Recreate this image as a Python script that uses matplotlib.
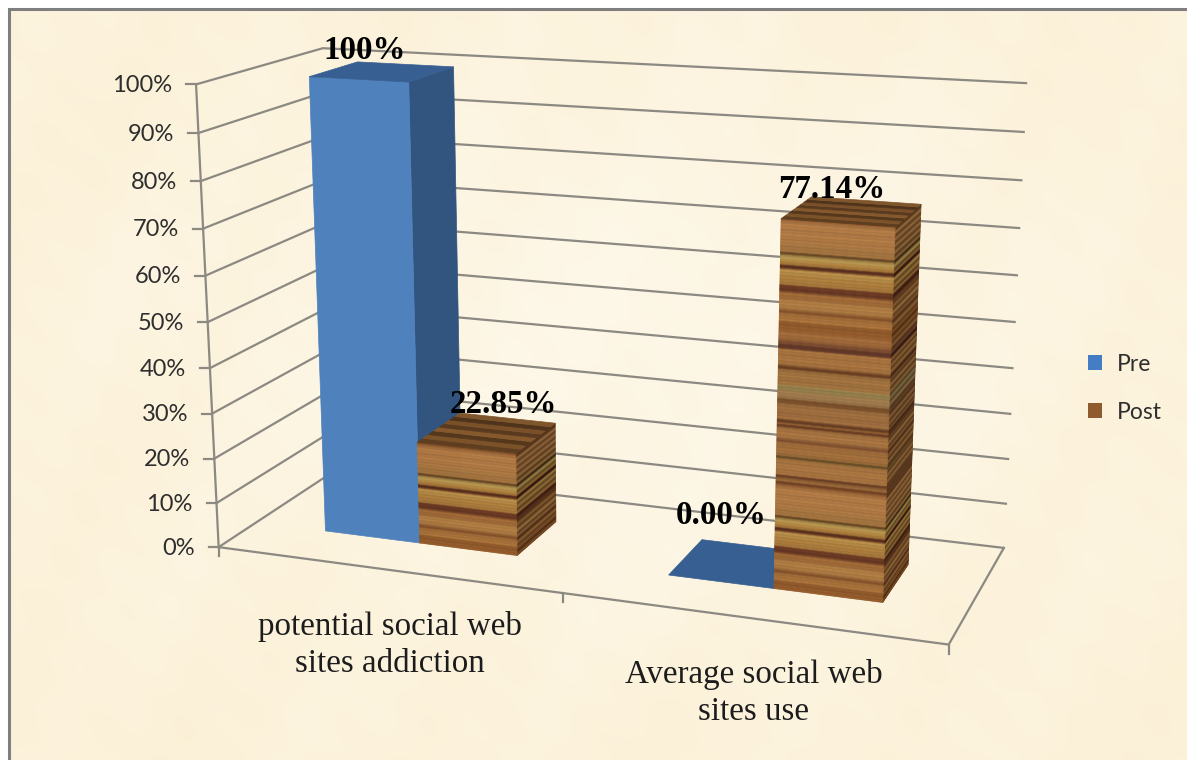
import numpy as np
import matplotlib
matplotlib.use('Agg')
import matplotlib.pyplot as plt
from matplotlib.patches import Polygon, Patch

#%% Data
categories = ["potential social web\nsites addiction", "Average social web\nsites use"]
series_names = ["Pre", "Post"]
pre_values = [100.0, 0.0]
post_values = [22.85, 77.14]
pre_labels = ["100%", "0.00%"]
post_labels = ["22.85%", "77.14%"]
value_ticks = [0, 10, 20, 30, 40, 50, 60, 70, 80, 90, 100]

#%% 3D view: fit a camera on the chart box corners (category, value, depth -> pixel)
ctrl = [(0, 0, 0, 219, 546), (0, 100, 0, 196, 85), (0, 0, 1, 339, 470), (0, 100, 1, 319, 48),
        (2, 0, 1, 1003, 547), (2, 100, 1, 1028, 85), (2, 0, 0, 947, 645), (1, 0, 0, 562, 600),
        (0, 50, 0, 207, 319), (2, 50, 1, 1015, 319),
        (0.214, 100, .3, 311, 77), (0.5, 100, .3, 410, 82), (0.5, 0, .3, 419, 543),
        (0.214, 0, .3, 325, 531), (0.786, 0, .3, 518, 554), (1.5, 0, .3, 775, 587),
        (1.786, 0, .3, 883, 602), (1.786, 0, .7, 908, 567), (0.5, 100, .7, 454, 69),
        (1.5, 77.14, .3, 781, 218), (1.786, 77.14, .3, 895, 225), (1.786, 77.14, .7, 920, 205),
        (0.5, 22.85, .3, 418, 442), (0.786, 22.85, .3, 516, 452), (0.786, 22.85, .7, 555, 423)]
A = []
b = []
for u, v, d, x, y in ctrl:
    A.append([u, v, d, 1, 0, 0, 0, 0, -x*u, -x*v, -x*d])
    b.append(x)
    A.append([0, 0, 0, 0, u, v, d, 1, -y*u, -y*v, -y*d])
    b.append(y)
cam = np.linalg.lstsq(np.array(A, float), np.array(b, float), rcond=None)[0]
cam = np.append(cam, 1).reshape(3, 4)

def proj(u, v, d):
    r = cam @ np.array([u, v, d, 1.0])
    return r[0]/r[2], r[1]/r[2]

#%% Style
grid_col = '#8c8982'
blue_front = '#4f81bd'
blue_side = '#31557f'
blue_top = '#375f92'
# wood grain, from the bottom of the bar upwards (height in px, colour)
wood = [(10, '#935a2a'), (8, '#aa723a'), (4, '#85522a'), (11, '#b07c42'), (7, '#9f6835'), (7, '#6a3822'),
        (10, '#ad7d3c'), (6, '#bb8f48'), (4, '#5a2d1c'), (5, '#ae7f3c'), (5, '#b99750'), (3, '#654622'),
        (10, '#a87640'), (20, '#b27a44'), (3, '#a06838'), (3, '#6c3d1f'), (4, '#9d6a3a'), (3, '#683c22'),
        (17, '#aa7540'), (3, '#664b25'), (14, '#a26e3a'), (4, '#82502e'), (12, '#a87440'), (3, '#653a20'),
        (2, '#986434'), (3, '#653a20'), (17, '#9f6d3d'), (5, '#774d28'), (8, '#a07a4c'), (6, '#98814c'),
        (16, '#a2723e'), (4, '#693d20'), (17, '#a8733d'), (5, '#653828'), (4, '#7d4c2e'), (9, '#a16938')]
tile_units = 54.6
wood_top = ['#5f3d1f', '#7c5229', '#55371c', '#86592d', '#5a3a1e', '#7a5028', '#4f331a', '#7f552b']

# one colour per px row, smoothed a little like the grain of the picture
tile = []
for h, col in wood:
    tile += [matplotlib.colors.to_rgb(col)]*h
tile = np.array(tile)*.97
n_rows = len(tile)
kernel = np.array([.25, .5, .25])
for ch in range(3):
    tile[:, ch] = np.convolve(np.r_[tile[-1, ch], tile[:, ch], tile[0, ch]], kernel, mode='valid')
rows = np.arange(n_rows)
tile = np.clip(tile*(1 + .045*np.sin(rows*1.9)[:, None] + .03*np.sin(rows*.73)[:, None]), 0, 1)

fig = plt.figure(figsize=(11.87, 7.6), dpi=100, facecolor='white')
ax = fig.add_axes([0, 0, 1, 1])

#%% Paper background
yy, xx = np.mgrid[0:760, 0:1187]
t = .38 + .55*np.exp(-((xx-620)/480.0)**2 - ((yy-340)/300.0)**2)
t = t + .07*np.sin(xx/37.0 + yy/61.0) + .06*np.sin(xx/13.0 - yy/29.0)*np.sin(yy/17.0) + .05*np.sin(xx/83.0)*np.cos(yy/47.0)
t = np.clip(t, 0, 1)
img = np.zeros((760, 1187, 3))
img[..., 0] = .985 + .008*t
img[..., 1] = .935 + .035*t
img[..., 2] = .820 + .090*t
ax.imshow(img, extent=(0, 1187, 760, 0), aspect='auto', zorder=0)
ax.set_xlim(0, 1187)
ax.set_ylim(760, 0)
ax.axis('off')
ax.add_patch(plt.Rectangle((0, 0), 1187, 8, fc='white', ec='none', zorder=1))
ax.add_patch(plt.Rectangle((0, 0), 8, 760, fc='white', ec='none', zorder=1))
ax.plot([8.5, 8.5, 1187], [760, 8.5, 8.5], color='#7f7f7f', lw=2.2, zorder=2, solid_joinstyle='miter')

#%% Walls, gridlines and ticks
for val in value_ticks:
    a = proj(0, val, 0)
    c = proj(0, val, 1)
    e = proj(2, val, 1)
    ax.plot([a[0], c[0], e[0]], [a[1], c[1], e[1]], color=grid_col, lw=1.6, zorder=3)
    ax.plot([a[0]-10, a[0]], [a[1], a[1]], color=grid_col, lw=1.6, zorder=3)
    ax.text(a[0]-24, a[1]+1, "%d%%" % val, ha='right', va='center', family='Lato',
            fontsize=17, color='#2e2e2e', zorder=6)
c0 = proj(0, 0, 0)
c1 = proj(0, 100, 0)
ax.plot([c0[0], c1[0]], [c0[1], c1[1]], color=grid_col, lw=1.6, zorder=3)
c2 = proj(2, 0, 0)
c3 = proj(2, 0, 1)
ax.plot([c0[0], c2[0], c3[0]], [c0[1], c2[1], c3[1]], color=grid_col, lw=1.6, zorder=3)
for i in range(len(categories)+1):
    tk = proj(i, 0, 0)
    ax.plot([tk[0], tk[0]], [tk[1], tk[1]+9], color=grid_col, lw=1.6, zorder=3)

#%% Bars
def face(pts, col, z):
    ax.add_patch(Polygon(pts, closed=True, fc=col, ec=col, lw=.5, zorder=z))

def solid_bar(u0, u1, d0, d1, val, z):
    if val > 0:
        face([proj(u1, 0, d0), proj(u1, 0, d1), proj(u1, val, d1), proj(u1, val, d0)], blue_side, z)
        face([proj(u0, 0, d0), proj(u1, 0, d0), proj(u1, val, d0), proj(u0, val, d0)], blue_front, z)
    face([proj(u0, val, d0), proj(u1, val, d0), proj(u1, val, d1), proj(u0, val, d1)], blue_top, z)

def wood_bar(u0, u1, d0, d1, val, z):
    step = tile_units/n_rows
    n = int(np.ceil(val/step))
    for i in range(n):
        lo = i*step
        top = min(lo+step, val)
        col = tile[i % n_rows]
        # side streaks are darker and stronger than the front
        side = np.clip(col*(.68 + .16*np.sin(i*.95)), 0, 1)
        face([proj(u1, lo, d0), proj(u1, lo, d1), proj(u1, top, d1), proj(u1, top, d0)], side, z)
        face([proj(u0, lo, d0), proj(u1, lo, d0), proj(u1, top, d0), proj(u0, top, d0)], col, z)
    n = len(wood_top)
    for i, col in enumerate(wood_top):
        a = d0 + (d1-d0)*i/n
        e = d0 + (d1-d0)*(i+1)/n
        face([proj(u0, val, a), proj(u1, val, a), proj(u1, val, e), proj(u0, val, e)], col, z)

d0, d1 = .3, .7
bar_w = .286
gap = .214
z = 4
for i in range(len(categories)):
    solid_bar(i+gap, i+gap+bar_w, d0, d1, pre_values[i], z)
    wood_bar(i+gap+bar_w, i+gap+2*bar_w, d0, d1, post_values[i], z+.1)
    z += 1

#%% Data labels and category labels
pre_off = [(-18, -21), (-16, -48)]
post_off = [(16, -28), (-20, -22)]
serif = 'Liberation Serif'
for i in range(len(categories)):
    x, y = proj(i+gap+bar_w/2, pre_values[i], .5)
    ax.text(x+pre_off[i][0], y+pre_off[i][1], pre_labels[i], ha='center', va='center',
            family=serif, weight='bold', fontsize=23.8, color='black', zorder=8)
    x, y = proj(i+gap+1.5*bar_w, post_values[i], .5)
    ax.text(x+post_off[i][0], y+post_off[i][1], post_labels[i], ha='center', va='center',
            family=serif, weight='bold', fontsize=23.8, color='black', zorder=8)

ax.text(390, 645, categories[0], ha='center', va='center', family=serif, fontsize=23.8,
        color='#1c1c1c', linespacing=1.28, zorder=8)
ax.text(754, 693, categories[1], ha='center', va='center', family=serif, fontsize=23.8,
        color='#1c1c1c', linespacing=1.28, zorder=8)

#%% Legend
handles = [Patch(fc='#437ec4', ec='none', label=series_names[0]),
           Patch(fc='#8f5a2e', ec='none', label=series_names[1])]
lgd = ax.legend(handles=handles, loc='center left', bbox_to_anchor=(1067/1187, 1-388.5/760), frameon=False,
                handlelength=.63, handleheight=.63, handletextpad=.65, labelspacing=1.18,
                prop={'family': 'Lato', 'size': 16.5}, labelcolor='#2e2e2e')

fig.savefig('out.png', dpi=100)
